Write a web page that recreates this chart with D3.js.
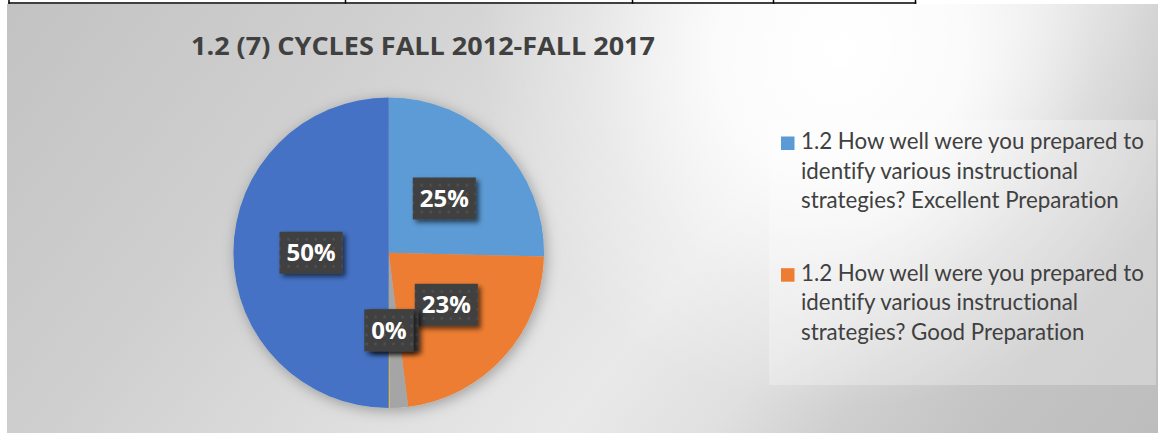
<!DOCTYPE html>
<html><head><meta charset="utf-8">
<script src="https://cdn.jsdelivr.net/npm/d3@7"></script>
<style>html,body{margin:0;padding:0;background:#fff;overflow:hidden}</style>
</head><body>
<svg id="chart" width="1158" height="433"></svg>
<script>
// ---------- data ----------
const title = "1.2 (7) CYCLES FALL 2012-FALL 2017";
const categories = [
  "1.2 How well were you prepared to identify various instructional strategies? Excellent Preparation",
  "1.2 How well were you prepared to identify various instructional strategies? Good Preparation",
  "1.2 How well were you prepared to identify various instructional strategies? Fair Preparation",
  "1.2 How well were you prepared to identify various instructional strategies? Poor Preparation",
  "1.2 How well were you prepared to identify various instructional strategies? Total"
];
const values = [25.4, 22.6, 1.9, 0.1, 50.0];
const colors = ["#5B9BD5", "#ED7D31", "#A5A5A5", "#FFC000", "#4472C4"];
const legendShown = 2; // only the first entries fit in the legend box

// ---------- layout ----------
const W = 1158, H = 433;
const svg = d3.select("#chart");
const defs = svg.append("defs");

// background gradients
const lin = defs.append("linearGradient").attr("id", "bgLin")
  .attr("gradientUnits", "userSpaceOnUse")
  .attr("x1", 0).attr("y1", 0).attr("x2", 936).attr("y2", 722);
[[0, "#c2c2c2"], [0.25, "#cfcfcf"], [0.45, "#dedede"], [0.6, "#e9e9e9"],
 [0.7, "#e0e0e0"], [0.78, "#cfcfcf"], [0.88, "#c3c3c3"], [1, "#bdbdbd"]]
  .forEach(([o, c]) => lin.append("stop").attr("offset", o).attr("stop-color", c));
const rad = defs.append("radialGradient").attr("id", "bgRad")
  .attr("gradientUnits", "userSpaceOnUse")
  .attr("cx", 840).attr("cy", 50).attr("r", 360);
[[0, 1], [0.35, 0.85], [0.7, 0.3], [1, 0]]
  .forEach(([o, a]) => rad.append("stop").attr("offset", o).attr("stop-color", "#fff").attr("stop-opacity", a));

// label box pattern
const pat = defs.append("pattern").attr("id", "dots")
  .attr("patternUnits", "userSpaceOnUse").attr("width", 9).attr("height", 9);
pat.append("rect").attr("width", 9).attr("height", 9).attr("fill", "#404040");
pat.append("rect").attr("x", 3.5).attr("y", 3.5).attr("width", 2.2).attr("height", 2.2).attr("fill", "#555555");

// filters
const fPie = defs.append("filter").attr("id", "pieShadow")
  .attr("x", "-20%").attr("y", "-20%").attr("width", "140%").attr("height", "140%");
fPie.append("feDropShadow").attr("dx", 2).attr("dy", 3).attr("stdDeviation", 7)
  .attr("flood-color", "#000").attr("flood-opacity", 0.3);
const fLab = defs.append("filter").attr("id", "labShadow")
  .attr("x", "-30%").attr("y", "-30%").attr("width", "160%").attr("height", "160%");
fLab.append("feDropShadow").attr("dx", 3).attr("dy", 3).attr("stdDeviation", 2.5)
  .attr("flood-color", "#000").attr("flood-opacity", 0.6);

// chart area
svg.append("rect").attr("x", 7).attr("y", 4).attr("width", W - 7).attr("height", H - 4).attr("fill", "url(#bgLin)");
svg.append("rect").attr("x", 7).attr("y", 4).attr("width", W - 7).attr("height", H - 4).attr("fill", "url(#bgRad)");

// table border remnants above the chart
const tableCols = [9, 345.5, 632.5, 773.5, 915.5];
svg.append("line").attr("x1", 8.3).attr("x2", 916.3).attr("y1", 3).attr("y2", 3)
  .attr("stroke", "#000").attr("stroke-width", 1.5);
svg.selectAll("line.col").data(tableCols).enter().append("line").attr("class", "col")
  .attr("x1", d => d).attr("x2", d => d).attr("y1", 0).attr("y2", 3.7)
  .attr("stroke", "#000").attr("stroke-width", 1.5);

// title
svg.append("text").attr("x", 191).attr("y", 54.5)
  .attr("font-family", "'Open Sans', Lato, sans-serif").attr("font-weight", 700)
  .attr("font-size", 24.5).attr("fill", "#404040")
  .attr("textLength", 464).attr("lengthAdjust", "spacingAndGlyphs")
  .text(title);

// pie
const cx = 388.7, cy = 252.7, R = 155.3;
const total = d3.sum(values);
const arcs = d3.pie().sort(null).value(d => d)(values);
const arc = d3.arc().innerRadius(0).outerRadius(R);
const pg = svg.append("g").attr("transform", `translate(${cx},${cy})`);
pg.append("g").attr("filter", "url(#pieShadow)")
  .selectAll("path").data(arcs).enter().append("path")
  .attr("d", arc).attr("fill", (d, i) => colors[i]);

// data labels (boxes first, then decide which texts remain visible)
const fmt = d3.format(".0%");
const labs = arcs.map((a, i) => {
  const [lx, ly] = arc.centroid(a);
  const g = pg.append("g").attr("transform", `translate(${lx},${ly})`);
  const rect = g.append("rect").attr("fill", "url(#dots)").attr("filter", "url(#labShadow)");
  const t = g.append("text").attr("text-anchor", "middle").attr("y", 8.6)
    .attr("font-family", "'Open Sans', Lato, sans-serif").attr("font-weight", 700)
    .attr("font-size", 24).attr("fill", "#fff")
    .text(fmt(values[i] / total));
  const tw = t.node().getComputedTextLength();
  const bw = tw + 14, bh = 42;
  rect.attr("x", -bw / 2).attr("y", -bh / 2).attr("width", bw).attr("height", bh);
  return {x: lx, y: ly, w: bw, h: bh, tw, t};
});
// a label whose text is covered by a later label's box is hidden (as in the original)
labs.forEach((L, i) => {
  labs.slice(i + 1).forEach(M => {
    const covered = Math.abs(L.x - M.x) + L.tw / 2 < M.w / 2 + 4 && Math.abs(L.y - M.y) < M.h / 2;
    if (covered) L.t.remove();
  });
});

// legend
svg.append("rect").attr("x", 769).attr("y", 120).attr("width", 387).attr("height", 265)
  .attr("fill", "#fff").attr("fill-opacity", 0.28);
const legFont = "Lato, 'Open Sans', sans-serif";
const lg = svg.append("g");
const probe = lg.append("text").attr("font-family", legFont).attr("font-size", 21)
  .text("1.2 How well were you prepared to");
const fs = 21 * 343 / probe.node().getComputedTextLength();
probe.remove();
const maxW = 349;
function wrap(str) {
  const words = str.split(" "), lines = [];
  let cur = "";
  const m = lg.append("text").attr("font-family", legFont).attr("font-size", fs);
  words.forEach(w => {
    const test = cur ? cur + " " + w : w;
    m.text(test);
    if (m.node().getComputedTextLength() > maxW && cur) { lines.push(cur); cur = w; }
    else cur = test;
  });
  if (cur) lines.push(cur);
  m.remove();
  return lines;
}
const itemY = [149, 280.7], lineH = 29.6;
categories.slice(0, legendShown).forEach((c, i) => {
  const y0 = itemY[i];
  lg.append("rect").attr("x", 781).attr("y", y0 - 12.5).attr("width", 13.5).attr("height", 13.5)
    .attr("fill", colors[i]);
  const t = lg.append("text").attr("font-family", legFont).attr("font-size", fs)
    .attr("fill", "#404040").style("font-variant-ligatures", "none");
  wrap(c).forEach((ln, k) => {
    t.append("tspan").attr("x", 801).attr("y", y0 + k * lineH).text(ln);
  });
});
</script>
</body></html>
